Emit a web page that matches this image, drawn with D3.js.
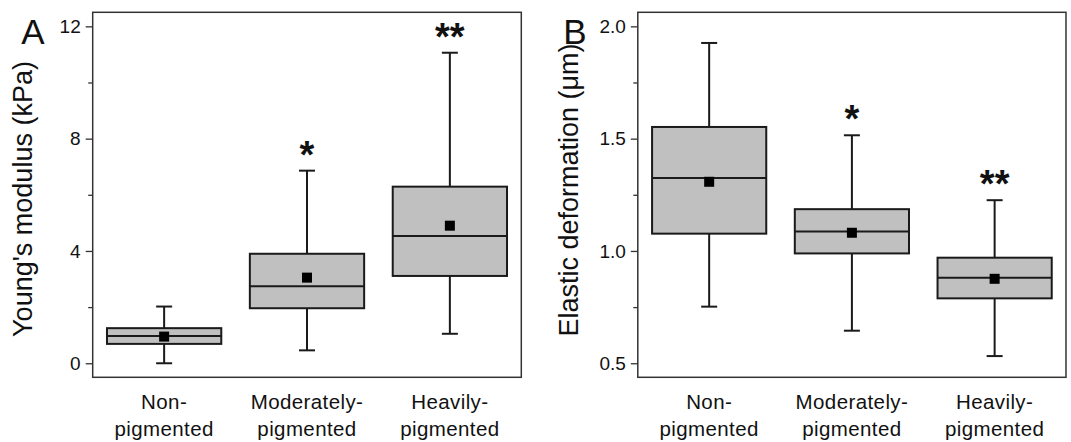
<!DOCTYPE html>
<html>
<head>
<meta charset="utf-8">
<script src="https://cdn.jsdelivr.net/npm/d3@7"></script>
<style>
  body { margin: 0; background: #fff; }
  text { font-family: "Liberation Sans", Arial, sans-serif; fill: #111; }
</style>
</head>
<body>
<div id="canvas"></div>
<script>
// categories (two lines each)
const groups = ["Non-|pigmented", "Moderately-|pigmented", "Heavily-|pigmented"];

// Panel A - Young's modulus (kPa)
const youngMin  = [0.00, 0.46, 1.05];
const youngQ1   = [0.69, 1.96, 3.11];
const youngMed  = [0.97, 2.74, 4.53];
const youngQ3   = [1.25, 3.90, 6.29];
const youngMax  = [2.02, 6.86, 11.06];
const youngMean = [0.95, 3.05, 4.90];
const youngSig  = ["", "*", "**"];
const youngTicks = [0, 4, 8, 12];
const youngMinor = [2, 6, 10];

// Panel B - Elastic deformation (um)
const elasMin  = [0.752, 0.645, 0.532];
const elasQ1   = [1.077, 0.989, 0.789];
const elasMed  = [1.325, 1.087, 0.881];
const elasQ3   = [1.552, 1.186, 0.970];
const elasMax  = [1.926, 1.515, 1.226];
const elasMean = [1.308, 1.081, 0.876];
const elasSig  = ["", "*", "**"];
const elasTicks = [0.5, 1.0, 1.5, 2.0];
const elasMinor = [0.75, 1.25, 1.75];

const svg = d3.select("#canvas").append("svg")
    .attr("width", 1071)
    .attr("height", 442);

const plotTop = 12.3, plotBottom = 377.3;

function drawPanel(p) {
    const x = d3.scalePoint()
        .domain(groups)
        .range([p.left, p.right])
        .padding(0.5);
    const y = d3.scaleLinear()
        .domain(p.domain)
        .range([plotBottom, plotTop]);
    const bw = x.step() * 0.8;
    const cap = 16;

    const g = svg.append("g");

    // axis
    g.append("g")
        .attr("transform", `translate(${p.left},0)`)
        .call(d3.axisLeft(y).tickValues(p.minor).tickSize(4.5).tickFormat(""))
        .call(a => a.select(".domain").remove())
        .call(a => a.selectAll("line").attr("stroke", "#333").attr("stroke-width", 1.3));
    g.append("g")
        .attr("transform", `translate(${p.left},0)`)
        .call(d3.axisLeft(y).tickValues(p.ticks).tickSize(7).tickPadding(5).tickFormat(p.fmt))
        .call(a => a.select(".domain").remove())
        .call(a => a.selectAll("line").attr("stroke", "#333").attr("stroke-width", 1.3))
        .call(a => a.selectAll("text")
            .attr("font-size", 19)
            .attr("font-family", "Liberation Sans, Arial, sans-serif")
            .attr("fill", "#222"));

    const idx = d3.range(groups.length);

    // whiskers
    g.selectAll(".whisk").data(idx).enter().append("line")
        .attr("x1", i => x(groups[i])).attr("x2", i => x(groups[i]))
        .attr("y1", i => y(p.max[i])).attr("y2", i => y(p.min[i]))
        .attr("stroke", "#1a1a1a").attr("stroke-width", 2);
    g.selectAll(".capHi").data(idx).enter().append("line")
        .attr("x1", i => x(groups[i]) - cap / 2).attr("x2", i => x(groups[i]) + cap / 2)
        .attr("y1", i => y(p.max[i])).attr("y2", i => y(p.max[i]))
        .attr("stroke", "#1a1a1a").attr("stroke-width", 2);
    g.selectAll(".capLo").data(idx).enter().append("line")
        .attr("x1", i => x(groups[i]) - cap / 2).attr("x2", i => x(groups[i]) + cap / 2)
        .attr("y1", i => y(p.min[i])).attr("y2", i => y(p.min[i]))
        .attr("stroke", "#1a1a1a").attr("stroke-width", 2);

    // boxes
    g.selectAll(".box").data(idx).enter().append("rect")
        .attr("x", i => x(groups[i]) - bw / 2)
        .attr("width", bw)
        .attr("y", i => y(p.q3[i]))
        .attr("height", i => y(p.q1[i]) - y(p.q3[i]))
        .attr("fill", "#c0c0c0")
        .attr("stroke", "#1a1a1a").attr("stroke-width", 2);
    g.selectAll(".med").data(idx).enter().append("line")
        .attr("x1", i => x(groups[i]) - bw / 2).attr("x2", i => x(groups[i]) + bw / 2)
        .attr("y1", i => y(p.med[i])).attr("y2", i => y(p.med[i]))
        .attr("stroke", "#1a1a1a").attr("stroke-width", 2);
    g.selectAll(".mean").data(idx).enter().append("rect")
        .attr("x", i => x(groups[i]) - 5)
        .attr("y", i => y(p.mean[i]) - 5)
        .attr("width", 10).attr("height", 10)
        .attr("fill", "#000");

    // significance stars
    g.selectAll(".sig").data(idx).enter().append("text")
        .attr("x", i => x(groups[i]))
        .attr("y", i => y(p.max[i]) - 3)
        .attr("text-anchor", "middle")
        .attr("font-size", 38)
        .attr("font-weight", "bold")
        .attr("fill", "#000")
        .text(i => p.sig[i]);

    // frame
    g.append("rect")
        .attr("x", p.left).attr("y", plotTop)
        .attr("width", p.right - p.left).attr("height", plotBottom - plotTop)
        .attr("fill", "none").attr("stroke", "#333").attr("stroke-width", 1.5);

    // category labels
    const lab = g.selectAll(".cat").data(groups).enter().append("text")
        .attr("text-anchor", "middle")
        .attr("font-size", 20.5)
        .attr("letter-spacing", 0.4)
        .attr("fill", "#222");
    lab.append("tspan").attr("x", d => x(d)).attr("y", 409.3).text(d => d.split("|")[0]);
    lab.append("tspan").attr("x", d => x(d)).attr("y", 435.7).text(d => d.split("|")[1]);

    // y title
    g.append("text")
        .attr("transform", `translate(${p.titleX},${p.titleY}) rotate(-90)`)
        .attr("text-anchor", "middle")
        .attr("font-size", 27)
        .attr("fill", "#111")
        .text(p.title);

    // panel letter
    g.append("text")
        .attr("x", p.letterX).attr("y", 44)
        .attr("text-anchor", "middle")
        .attr("font-size", 35)
        .attr("fill", "#000")
        .text(p.letter);
}

drawPanel({
    left: 92.7, right: 521.3, domain: [-0.5, 12.5],
    ticks: youngTicks, minor: youngMinor, fmt: d3.format("d"),
    min: youngMin, q1: youngQ1, med: youngMed, q3: youngQ3, max: youngMax, mean: youngMean,
    sig: youngSig, title: "Young's modulus (kPa)", titleX: 32, titleY: 199,
    letter: "A", letterX: 33
});

drawPanel({
    left: 637.8, right: 1066, domain: [0.4375, 2.0625],
    ticks: elasTicks, minor: elasMinor, fmt: d3.format(".1f"),
    min: elasMin, q1: elasQ1, med: elasMed, q3: elasQ3, max: elasMax, mean: elasMean,
    sig: elasSig, title: "Elastic deformation (\u03bcm)", titleX: 578, titleY: 190,
    letter: "B", letterX: 575
});
</script>
</body>
</html>
